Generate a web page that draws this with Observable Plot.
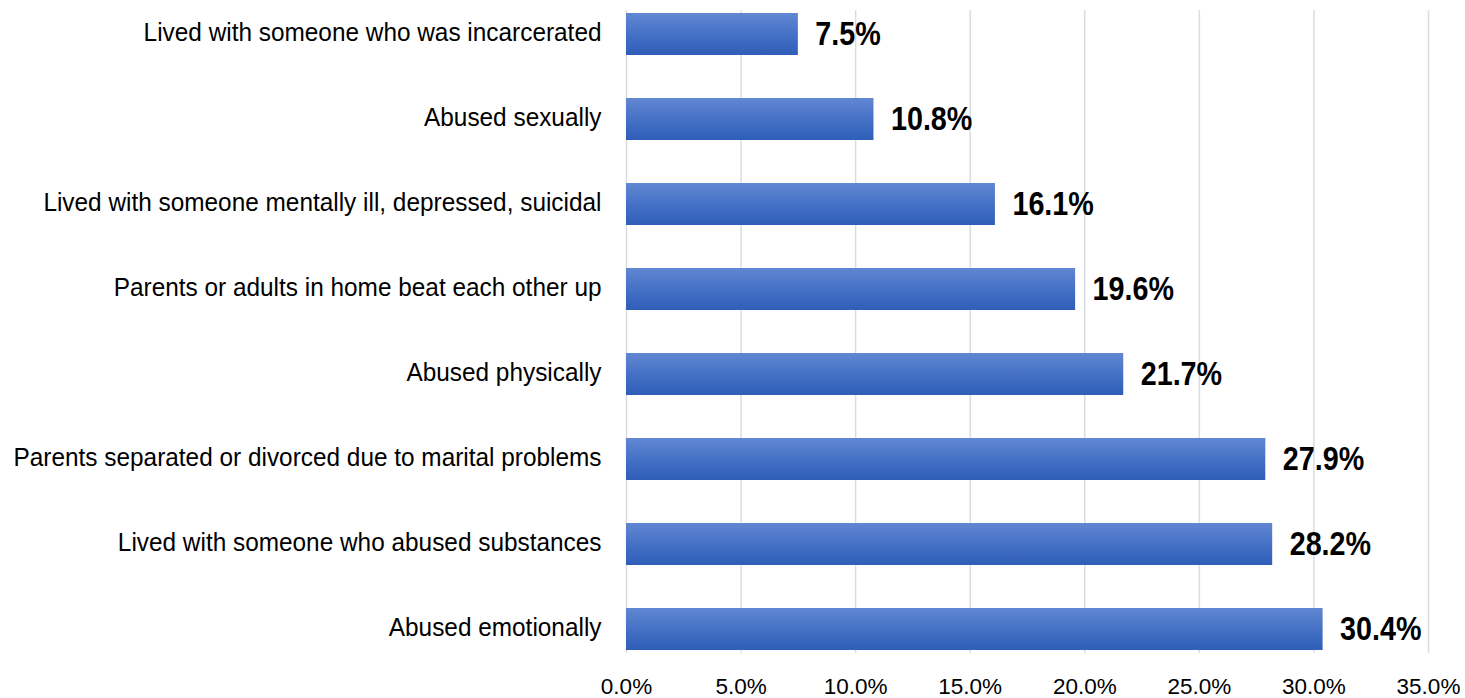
<!DOCTYPE html>
<html>
<head>
<meta charset="utf-8">
<script src="https://cdn.jsdelivr.net/npm/d3@7"></script>
<script src="https://cdn.jsdelivr.net/npm/@observablehq/plot@0.6"></script>
<style>
  html, body { margin: 0; padding: 0; background: #fff; }
  #chart { width: 1465px; height: 698px; }
</style>
</head>
<body>
<div id="chart"></div>
<script>
const categories = [
  "Lived with someone who was incarcerated",
  "Abused sexually",
  "Lived with someone mentally ill, depressed, suicidal",
  "Parents or adults in home beat each other up",
  "Abused physically",
  "Parents separated or divorced due to marital problems",
  "Lived with someone who abused substances",
  "Abused emotionally"
];
const values = [7.5, 10.8, 16.1, 19.6, 21.7, 27.9, 28.2, 30.4];
const xTicks = [0, 5, 10, 15, 20, 25, 30, 35];

const data = categories.map((c, i) => ({category: c, value: values[i]}));
const font = "'Liberation Sans', Arial, sans-serif";

const plot = Plot.plot({
  width: 1465,
  height: 698,
  marginLeft: 626,
  marginRight: 37,
  marginTop: 10,
  marginBottom: 45,
  style: {background: "#fff", overflow: "visible", fontFamily: font},
  x: {domain: [0, 35], ticks: xTicks, tickFormat: d => d.toFixed(1) + "%", label: null},
  y: {domain: categories, paddingInner: 0.51, paddingOuter: 0.01, label: null},
  marks: [
    Plot.gridX(xTicks, {stroke: "#d9dde3", strokeOpacity: 1, strokeWidth: 1.5}),
    Plot.barX(data, {y: "category", x: "value", fill: "url(#barGrad)"}),
    Plot.text(data, {
      y: "category", x: "value", text: d => d.value.toFixed(1) + "%",
      textAnchor: "start", dx: 17, fontSize: 33, fontWeight: "bold",
      fontFamily: font, fill: "#000", className: "vlabel"
    }),
    Plot.axisY({tickSize: 0, tickPadding: 25, fontSize: 26.5, dy: -2, fontFamily: font}),
    Plot.axisX(xTicks, {tickSize: 0, tickPadding: 25, fontSize: 22.5, fontFamily: font,
      tickFormat: d => d.toFixed(1) + "%"})
  ]
});

const ns = "http://www.w3.org/2000/svg";
const defs = document.createElementNS(ns, "defs");
defs.innerHTML = `<linearGradient id="barGrad" x1="0" y1="0" x2="0" y2="1">
  <stop offset="0" stop-color="#6287d2"/>
  <stop offset="0.5" stop-color="#4571c6"/>
  <stop offset="1" stop-color="#2f5eb8"/>
</linearGradient>`;
plot.insertBefore(defs, plot.firstChild);

function squeeze(selector, k) {
  plot.querySelectorAll(selector).forEach(t => {
    const tr = t.getAttribute("transform") || "";
    t.setAttribute("transform", (tr + ` scale(${k},1)`).trim());
  });
}
squeeze("g[aria-label='y-axis tick label'] text", 0.92);
squeeze("g[aria-label='text'] text", 0.87);
plot.querySelectorAll("g[aria-label='y-axis tick label'], g[aria-label='x-axis tick label']").forEach(g => g.setAttribute("fill", "#000"));
document.getElementById("chart").appendChild(plot);
</script>
</body>
</html>
